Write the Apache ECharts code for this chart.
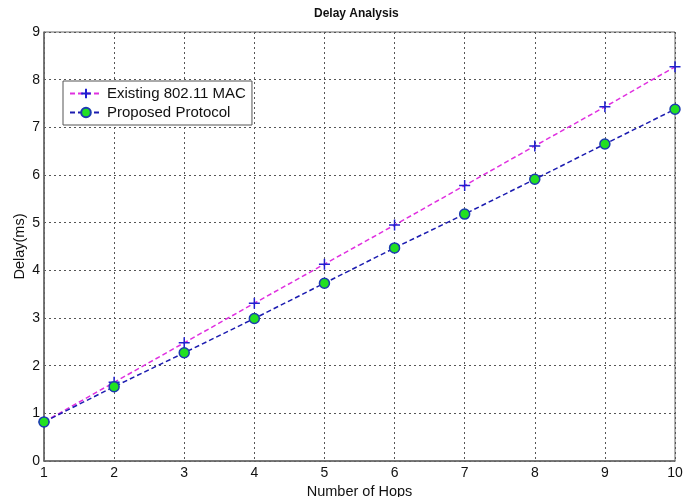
<!DOCTYPE html>
<html lang="en">
<head>
    <meta charset="UTF-8">
    <title>Delay Analysis</title>
    <script src="https://cdn.jsdelivr.net/npm/echarts@6/dist/echarts.min.js"></script>
    <style>
        html, body { margin: 0; padding: 0; background: #fff; }
        #chart { width: 696px; height: 497px; }
    </style>
</head>
<body>
    <div id="chart"></div>
    <script>
        // data
        const hops = [1, 2, 3, 4, 5, 6, 7, 8, 9, 10];
        const existingMac = [0.82, 1.65, 2.48, 3.31, 4.13, 4.95, 5.78, 6.61, 7.43, 8.27];
        const proposed = [0.82, 1.56, 2.27, 2.99, 3.73, 4.47, 5.18, 5.91, 6.65, 7.38];

        const chart = echarts.init(document.getElementById('chart'));
        const plus = 'path://M0,5L10,5M5,0L5,10';
        const font = 'Liberation Sans';

        const option = {
            animation: false,
            title: {
                text: 'Delay Analysis',
                left: 309,
                top: 3,
                textStyle: { fontFamily: font, fontSize: 12, fontWeight: 'bold', color: '#111' }
            },
            legend: {
                orient: 'vertical',
                left: 63,
                top: 81,
                padding: [5, 6, 5, 6],
                itemGap: 4,
                itemWidth: 32,
                itemHeight: 12,
                borderColor: '#555',
                borderWidth: 1,
                backgroundColor: '#fff',
                textStyle: { fontFamily: font, fontSize: 15, color: '#111' },
                data: ['Existing 802.11 MAC', 'Proposed Protocol']
            },
            grid: {
                left: 44, right: 21, top: 32, bottom: 36,
                containLabel: false,
                outerBoundsMode: 'none',
                show: true,
                borderColor: '#666',
                borderWidth: 1
            },
            xAxis: {
                type: 'value',
                min: 1, max: 10, interval: 1,
                name: 'Number of Hops',
                nameLocation: 'middle',
                nameMoveOverlap: false,
                nameGap: 23,
                nameTextStyle: { fontFamily: font, fontSize: 14.5, color: '#111' },
                axisLine: { lineStyle: { color: '#666', width: 1.5 } },
                axisTick: { show: false },
                axisLabel: { fontFamily: font, fontSize: 14, color: '#111', margin: 5 },
                splitLine: { lineStyle: { color: '#555', type: [2, 3], width: 1 } }
            },
            yAxis: {
                type: 'value',
                min: 0, max: 9, interval: 1,
                name: 'Delay(ms)',
                nameLocation: 'middle',
                nameMoveOverlap: false,
                nameGap: 17,
                nameTextStyle: { fontFamily: font, fontSize: 14.5, color: '#111' },
                axisLine: { show: true, lineStyle: { color: '#666', width: 1.5 } },
                axisTick: { show: false },
                axisLabel: { fontFamily: font, fontSize: 14, color: '#111', margin: 4 },
                splitLine: { lineStyle: { color: '#555', type: [2, 3], width: 1 } }
            },
            series: [
                {
                    name: 'Existing 802.11 MAC',
                    type: 'line',
                    data: hops.map((h, i) => [h, existingMac[i]]),
                    symbol: plus,
                    symbolSize: 11,
                    lineStyle: { color: '#e030e0', type: [5, 3], width: 1.5 },
                    itemStyle: { color: '#2020d0', borderColor: '#2020d0', borderWidth: 1.5 },
                    z: 3
                },
                {
                    name: 'Proposed Protocol',
                    type: 'line',
                    data: hops.map((h, i) => [h, proposed[i]]),
                    symbol: 'circle',
                    symbolSize: 10,
                    lineStyle: { color: '#1c1cb0', type: [5, 3], width: 1.5 },
                    itemStyle: { color: '#22e022', borderColor: '#1c3cb0', borderWidth: 1.5 },
                    z: 4
                }
            ]
        };

        chart.setOption(option);
    </script>
</body>
</html>
